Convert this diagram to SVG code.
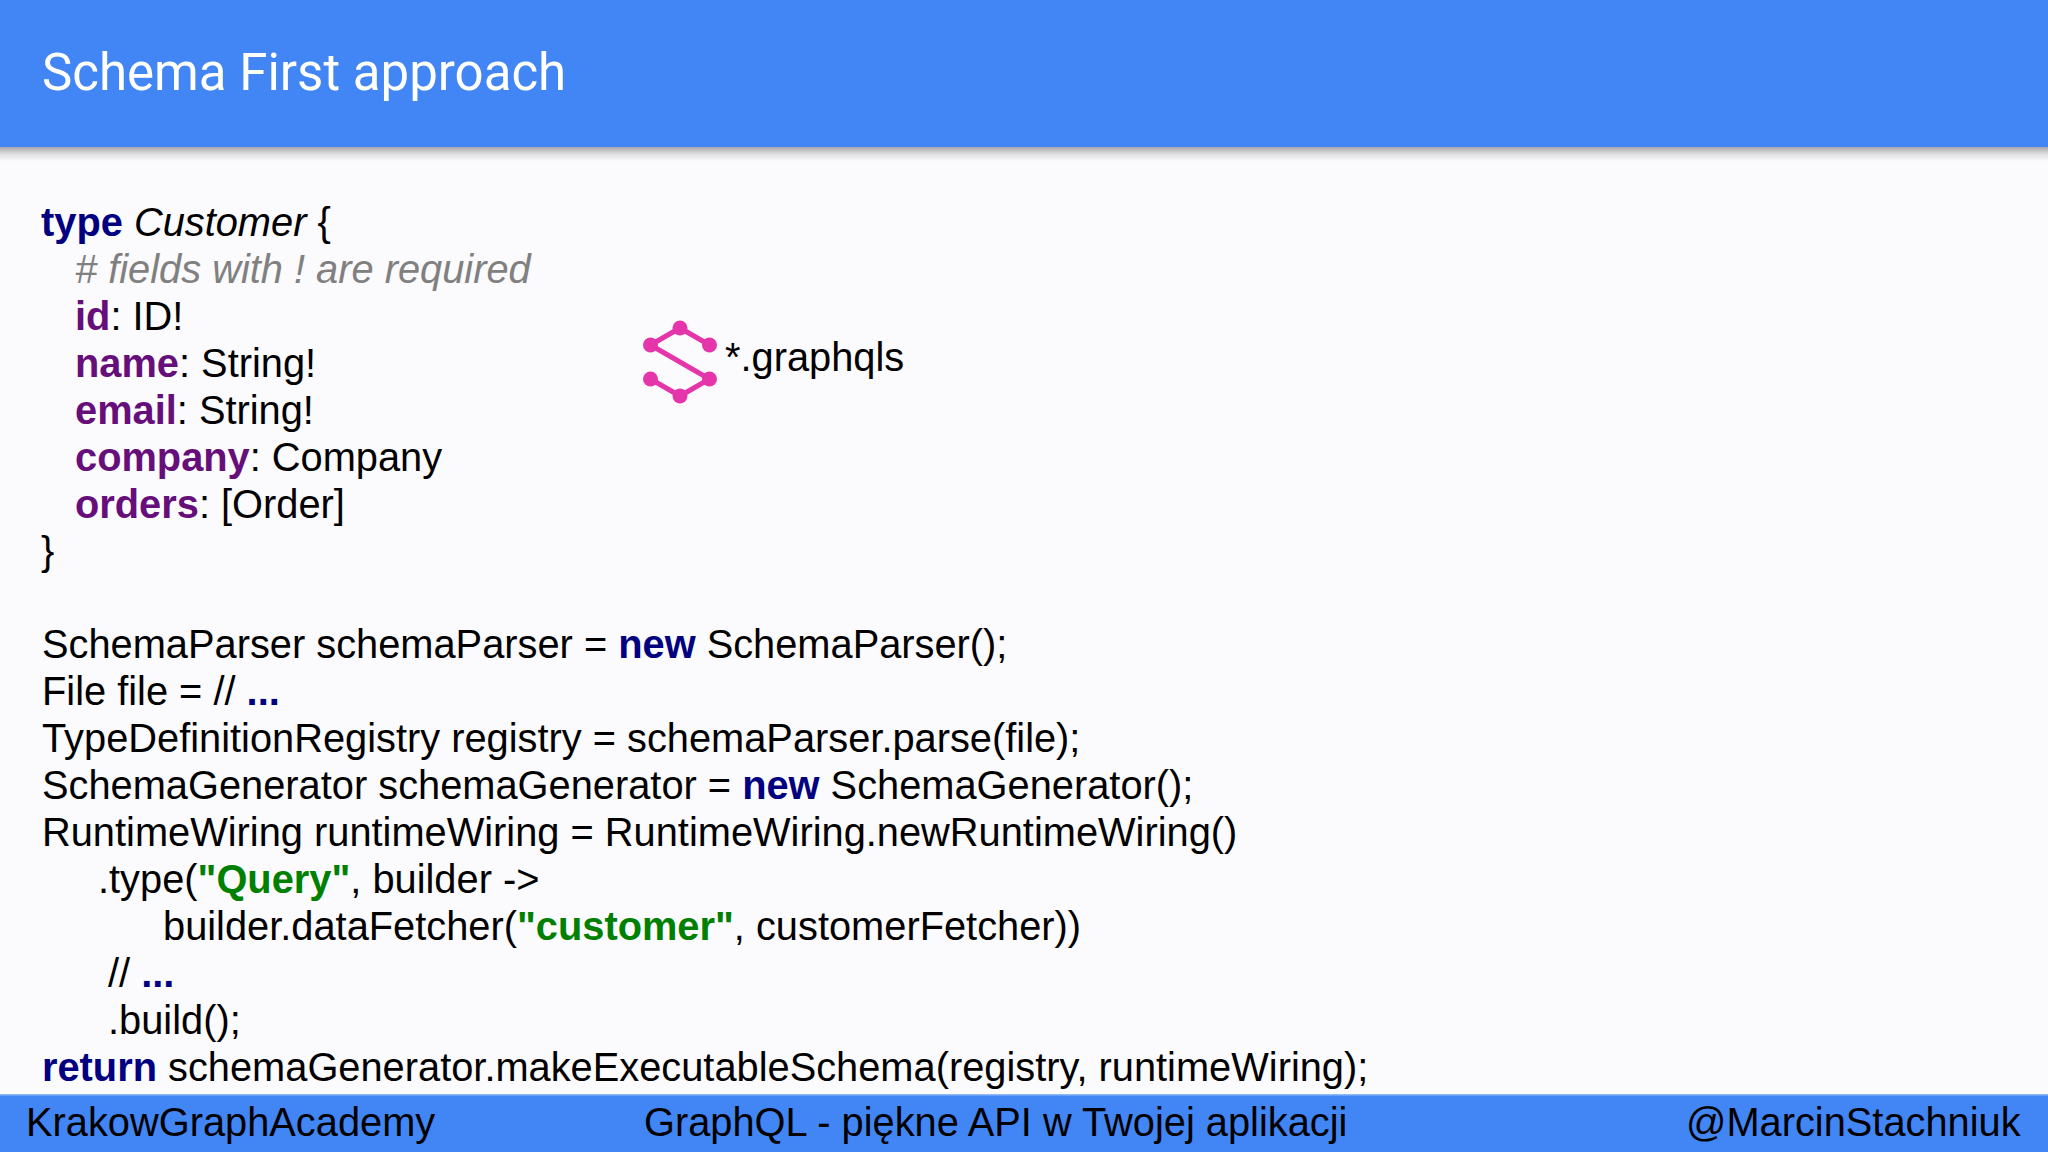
<svg xmlns="http://www.w3.org/2000/svg" width="2048" height="1152" viewBox="0 0 2048 1152">
<defs><linearGradient id="sh" x1="0" y1="0" x2="0" y2="1"><stop offset="0" stop-color="#a8a8aa"/><stop offset="0.5" stop-color="#dedee0"/><stop offset="1" stop-color="#fbfafc"/></linearGradient></defs>
<style>
text{font-family:"Liberation Sans",Arial,sans-serif;fill:#000;white-space:pre}
.c{font-size:39.8px}
.k{font-weight:bold;fill:#000080}
.f{font-weight:bold;fill:#660e7a}
.s{font-weight:bold;fill:#008000}
.m{font-style:italic;fill:#808080}
.i{font-style:italic}
.b{font-size:39.8px}
</style>
<rect width="2048" height="1152" fill="#fbfafc"/>
<rect y="147" width="2048" height="14" fill="url(#sh)"/>
<rect width="2048" height="147" fill="#4285f4"/>
<text x="42" y="90" style="font-family:Roboto,sans-serif;font-size:51px;fill:#fff">Schema First approach</text>
<g id="schema">
<text class="c" x="41" y="236"><tspan class="k">type</tspan> <tspan class="i">Customer</tspan> {</text>
<text class="c m" x="75" y="283"># fields with ! are required</text>
<text class="c" x="75" y="330"><tspan class="f">id</tspan>: ID!</text>
<text class="c" x="75" y="377"><tspan class="f">name</tspan>: String!</text>
<text class="c" x="75" y="424"><tspan class="f">email</tspan>: String!</text>
<text class="c" x="75" y="471"><tspan class="f">company</tspan>: Company</text>
<text class="c" x="75" y="518"><tspan class="f">orders</tspan>: [Order]</text>
<text class="c" x="41" y="565">}</text>
</g>
<g id="logo" fill="#e535ab" stroke="#e535ab">
<path d="M650.500 345L680 328L709.500 345M650.500 345L709.500 379L680 396L650.500 379" fill="none" stroke-width="5"/>
<g stroke="none"><circle cx="680" cy="328" r="7.500"/><circle cx="650.500" cy="345" r="7.500"/><circle cx="709.500" cy="345" r="7.500"/><circle cx="709.500" cy="379" r="7.500"/><circle cx="650.500" cy="379" r="7.500"/><circle cx="680" cy="396" r="7.500"/></g>
</g>
<text class="c" x="725" y="371">*.graphqls</text>
<g id="code">
<text class="c" x="42" y="658">SchemaParser schemaParser = <tspan class="k">new</tspan> SchemaParser();</text>
<text class="c" x="42" y="705">File file = // <tspan class="k">...</tspan></text>
<text class="c" x="42" y="752">TypeDefinitionRegistry registry = schemaParser.parse(file);</text>
<text class="c" x="42" y="799">SchemaGenerator schemaGenerator = <tspan class="k">new</tspan> SchemaGenerator();</text>
<text class="c" x="42" y="846">RuntimeWiring runtimeWiring = RuntimeWiring.newRuntimeWiring()</text>
<text class="c" x="98" y="893">.type(<tspan class="s">"Query"</tspan>, builder -&gt;</text>
<text class="c" x="163" y="940">builder.dataFetcher(<tspan class="s">"customer"</tspan>, customerFetcher))</text>
<text class="c" x="108" y="987">// <tspan class="k">...</tspan></text>
<text class="c" x="108" y="1034">.build();</text>
<text class="c" x="42" y="1081"><tspan class="k">return</tspan> schemaGenerator.makeExecutableSchema(registry, runtimeWiring);</text>
</g>
<rect y="1094" width="2048" height="58" fill="#4285f4"/>
<rect y="1094" width="2048" height="1.500" fill="#8fbaf8"/>
<g id="footer">
<text class="b" x="26" y="1136">KrakowGraphAcademy</text>
<text class="b" x="644" y="1136">GraphQL - piękne API w Twojej aplikacji</text>
<text class="b" x="1686" y="1136">@MarcinStachniuk</text>
</g>
</svg>
